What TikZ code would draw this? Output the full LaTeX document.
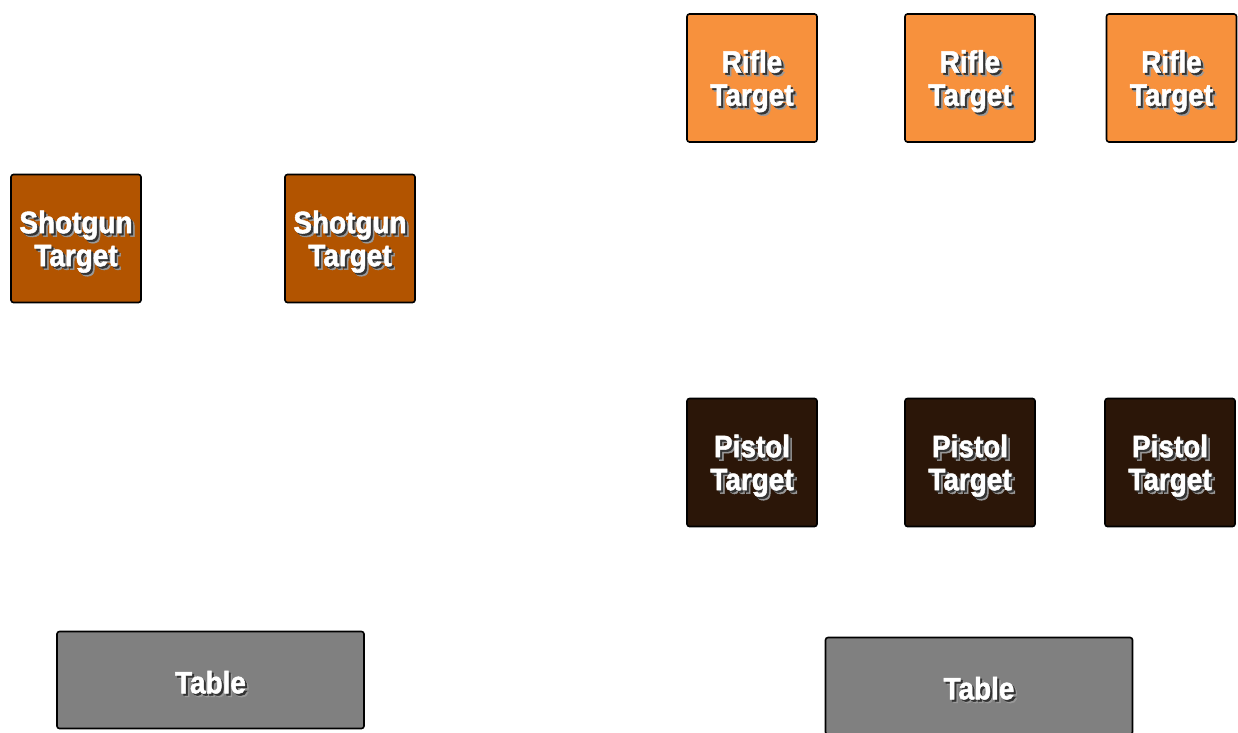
\documentclass[tikz,border=0pt]{standalone}
\usepackage{fontspec}
\newfontfamily\labelfont{Liberation Sans Bold}[FakeStretch=0.9,FakeBold=1.6]
\definecolor{rifle}{RGB}{247,145,61}
\definecolor{shotgun}{RGB}{178,84,0}
\definecolor{pistol}{RGB}{43,22,8}
\definecolor{tablegray}{RGB}{128,128,128}
\newcommand{\shadowed}[1]{\rlap{\hspace{3.5pt}\raisebox{-3.5pt}{\textcolor{black!40}{#1}}}\rlap{\hspace{2pt}\raisebox{-2pt}{\textcolor{black!80}{#1}}}\textcolor{white}{#1}}
\tikzset{
  boxtext/.style={align=center, inner sep=0pt, yshift=-5pt, font=\labelfont\fontsize{31}{33}\selectfont},
  targetbox/.style={draw=black, line width=1.6pt, rounded corners=2.5pt, minimum width=130pt, minimum height=128pt, inner sep=0pt},
  riflebox/.style={targetbox, fill=rifle},
  shotgunbox/.style={targetbox, fill=shotgun},
  pistolbox/.style={targetbox, fill=pistol},
  tablebox/.style={targetbox, fill=tablegray, minimum width=307pt, minimum height=97pt},
}
\newcommand{\tgt}[1]{\shadowed{#1}\\\shadowed{Target}}
\begin{document}
\begin{tikzpicture}[x=1pt,y=-1pt]
\useasboundingbox (0,0) rectangle (1238,732);
\begin{scope}
\clip (0,0) rectangle (1238,732);
\node[riflebox, label={[boxtext]center:\tgt{Rifle}}] (r1) at (752,78) {};
\node[riflebox, label={[boxtext]center:\tgt{Rifle}}] (r2) at (970,78) {};
\node[riflebox, label={[boxtext]center:\tgt{Rifle}}] (r3) at (1171.5,78) {};
\node[shotgunbox, label={[boxtext]center:\tgt{Shotgun}}] (s1) at (76,238.5) {};
\node[shotgunbox, label={[boxtext]center:\tgt{Shotgun}}] (s2) at (350,238.5) {};
\node[pistolbox, label={[boxtext]center:\tgt{Pistol}}] (p1) at (752,462.5) {};
\node[pistolbox, label={[boxtext]center:\tgt{Pistol}}] (p2) at (970,462.5) {};
\node[pistolbox, label={[boxtext]center:\tgt{Pistol}}] (p3) at (1170,462.5) {};
\node[tablebox, label={[boxtext, yshift=1pt]center:\shadowed{Table}}] (t1) at (210.5,680) {};
\node[tablebox, label={[boxtext, yshift=1pt]center:\shadowed{Table}}] (t2) at (979,686) {};
\end{scope}
\end{tikzpicture}
\end{document}
